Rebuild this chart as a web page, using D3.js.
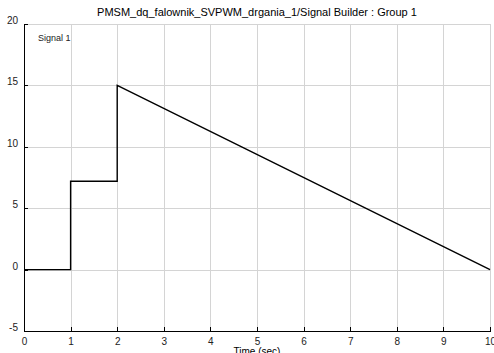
<!DOCTYPE html>
<meta charset="utf-8">
<style>
body { margin: 0; background: #fff; font-family: "Liberation Sans", Helvetica, Arial; }
.grid line { stroke: #d4d4d4; stroke-width: 1; shape-rendering: crispEdges; }
.axis path, .axis line { stroke: #000; shape-rendering: crispEdges; }
.axis text { fill: #222; font-size: 10px; font-family: "Liberation Sans", Helvetica, Arial; }
.signal { fill: none; stroke: #000; stroke-width: 1.4; }
</style>
<svg width="494" height="353"></svg>
<script src="https://d3js.org/d3.v7.min.js"></script>
<script>

var title = "PMSM_dq_falownik_SVPWM_drgania_1/Signal Builder : Group 1";
var timeVals = [0, 1, 1, 2, 2, 10];
var signalVals = [0, 0, 7.2, 7.2, 15, 0];
var xTicks = [0, 1, 2, 3, 4, 5, 6, 7, 8, 9, 10];
var yTicks = [-5, 0, 5, 10, 15, 20];

var svg = d3.select("svg"),
    margin = {top: 24, right: 4, bottom: 22, left: 24},
    width = +svg.attr("width") - margin.left - margin.right,
    height = +svg.attr("height") - margin.top - margin.bottom;

var x = d3.scaleLinear().domain([0, 10]).range([0, width]);
var y = d3.scaleLinear().domain([-5, 20]).range([height, 0]);

var g = svg.append("g")
    .attr("transform", "translate(" + margin.left + "," + margin.top + ")");

// grid
var grid = g.append("g").attr("class", "grid");
grid.selectAll("line.v").data(xTicks).enter().append("line")
    .attr("x1", d => Math.round(x(d)) + 0.5).attr("x2", d => Math.round(x(d)) + 0.5)
    .attr("y1", 0).attr("y2", height);
grid.selectAll("line.h").data(yTicks).enter().append("line")
    .attr("y1", d => Math.round(y(d)) + 0.5).attr("y2", d => Math.round(y(d)) + 0.5)
    .attr("x1", 0).attr("x2", width);

var line = d3.line()
    .x(function(d, i) { return x(timeVals[i]); })
    .y(function(d) { return y(d); });

g.append("path").attr("class", "signal")
    .datum(signalVals)
    .attr("d", line);

g.append("g")
    .attr("class", "axis")
    .attr("transform", "translate(0," + height + ")")
    .call(d3.axisBottom(x).tickValues(xTicks).tickFormat(d => String(d))
        .tickSize(-4).tickSizeOuter(0).tickPadding(7));

g.append("g")
    .attr("class", "axis")
    .call(d3.axisLeft(y).tickValues(yTicks).tickFormat(d => String(d))
        .tickSize(-4).tickSizeOuter(0).tickPadding(6))
    .selectAll("text").attr("dy", "-0.05em");

svg.append("text")
    .attr("x", margin.left + width / 2)
    .attr("y", 16)
    .attr("text-anchor", "middle")
    .style("font-size", "11px")
    .text(title);

svg.append("text")
    .attr("x", margin.left + width / 2)
    .attr("y", height + margin.top + 24)
    .attr("text-anchor", "middle")
    .style("font-size", "10px")
    .text("Time (sec)");

g.append("text")
    .attr("x", 14)
    .attr("y", 17)
    .style("font-size", "9px")
    .style("fill", "#222")
    .text("Signal 1");

</script>
